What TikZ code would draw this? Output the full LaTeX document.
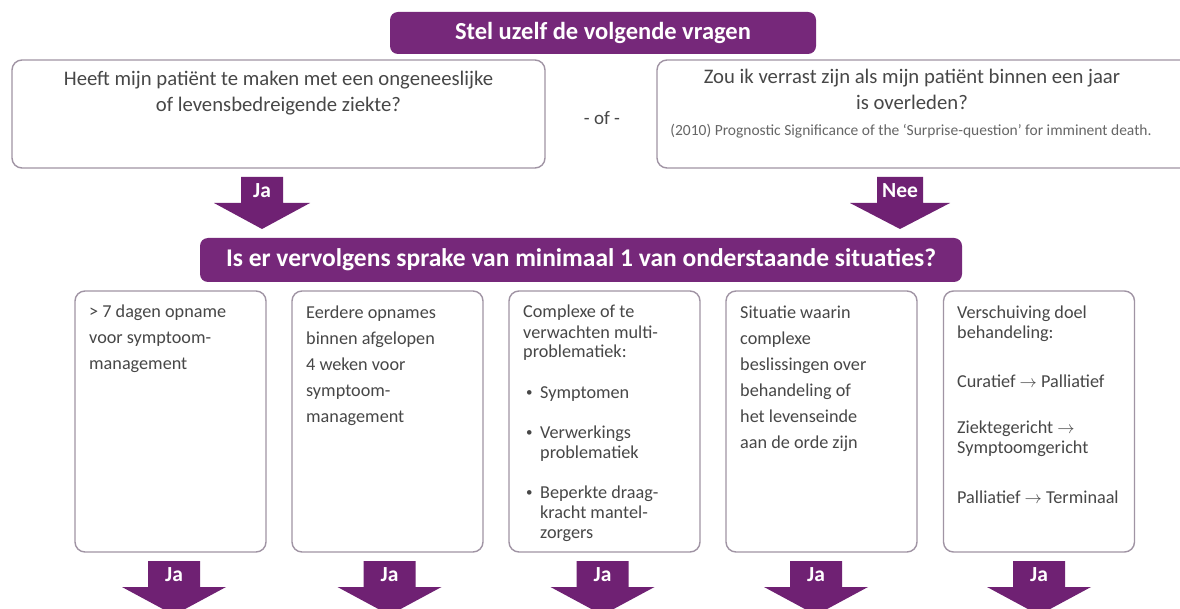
\documentclass[tikz,border=0pt]{standalone}
\usepackage{fontspec}
\setmainfont{Carlito}
\definecolor{bannerpurple}{HTML}{76287A}
\definecolor{arrowpurple}{HTML}{6F2173}
\definecolor{boxline}{HTML}{A094A4}
\definecolor{textgray}{HTML}{474747}
\definecolor{citegray}{HTML}{666666}
\newcommand{\blockarrow}[8]{% name, x, top y, label, stem half width, stem height, head half width, head height
  \coordinate (#1) at (#2,#3);
  \fill[arrowpurple] (#1) ++(-#5,0) -- ++(2*#5,0) -- ++(0,#6) -- ++(#7-#5,0)
    -- ++(-#7,#8) -- ++(-#7,-#8) -- ++(#7-#5,0) -- cycle;
  \path (#1) ++(0,#6/2+1) node[arrowlabel] (#1-label) {#4};
}
\begin{document}
\begin{tikzpicture}[x=1pt,y=-1pt,
  banner/.style={fill=bannerpurple, text=white, rounded corners=8pt, inner sep=0pt},
  qbox/.style={draw=boxline, line width=1.4pt, rounded corners=10pt, fill=white, inner sep=0pt},
  sbox/.style={draw=boxline, line width=1.4pt, rounded corners=10pt, fill=white, inner sep=0pt,
               minimum width=191pt, minimum height=261pt},
  qtext/.style={anchor=base, align=center, inner sep=0pt, text=textgray,
                font=\fontsize{20.7}{26}\selectfont},
  txt/.style={anchor=base west, align=left, inner sep=0pt, text=textgray,
              font=\fontsize{18.2}{26}\selectfont},
  txttight/.style={anchor=base west, align=left, inner sep=0pt, text=textgray,
              font=\fontsize{18.2}{20}\selectfont},
  bullet/.style={anchor=base west, inner sep=0pt, text=textgray,
              font=\fontsize{13}{14}\selectfont},
  arrowlabel/.style={text=white, inner sep=0pt, font=\bfseries\fontsize{21.5}{22}\selectfont}
]
\useasboundingbox (0,0) rectangle (1180,609);
\clip (0,0) rectangle (1180,609);
\fill[white] (0,0) rectangle (1180,609);

% top banner
\node[banner, minimum width=426pt, minimum height=42pt,
      font=\bfseries\fontsize{24.5}{26}\selectfont] (b1) at (603,33) {Stel uzelf de volgende vragen};

% question boxes (base anchor = baseline of last line)
\node[qbox, minimum width=533pt, minimum height=108pt] (q1) at (278.5,114) {};
\node[qtext] (q1t) at (278.5,112) {Heeft mijn patiënt te maken met een ongeneeslijke\\of levensbedreigende ziekte?};

\node[text=textgray, inner sep=0pt, font=\fontsize{19}{20}\selectfont] (of) at (602,118) {- of -};

\node[qbox, minimum width=543pt, minimum height=108pt] (q2) at (928.5,114) {};
\node[qtext] (q2t) at (912,110) {Zou ik verrast zijn als mijn patiënt binnen een jaar\\is overleden?};
\node[anchor=base, inner sep=0pt, text=citegray, font=\fontsize{15.5}{18}\selectfont] (cite) at (911,136)
  {(2010) Prognostic Significance of the ‘Surprise-question’ for imminent death.};

% arrows from questions
\blockarrow{aja}{262}{177}{Ja}{21}{26}{48}{26}
\blockarrow{anee}{900}{177}{Nee}{23}{26}{50}{26}

% second banner
\node[banner, minimum width=762pt, minimum height=44pt,
      font=\bfseries\fontsize{25.5}{28}\selectfont] (b2) at (581,260)
  {Is er vervolgens sprake van minimaal 1 van onderstaande situaties?};

% situation boxes
\node[sbox] (s1) at (170.5,421.5) {};
\node[sbox] (s2) at (387.5,421.5) {};
\node[sbox] (s3) at (604.5,421.5) {};
\node[sbox] (s4) at (821.5,421.5) {};
\node[sbox] (s5) at (1039,421.5) {};

\node[txt] (s1t) at (89,370) {> 7 dagen opname\\voor symptoom-\\management};
\node[txt] (s2t) at (306,422) {Eerdere opnames\\binnen afgelopen\\4 weken voor\\symptoom-\\management};

\node[txttight] (s3t) at (523,358) {Complexe of te\\verwachten multi-\\problematiek:};
\node[bullet] (s3b1) at (526,396) {•};
\node[txttight] (s3i1) at (540,398) {Symptomen};
\node[bullet] (s3b2) at (526,436) {•};
\node[txttight] (s3i2) at (540,458) {Verwerkings\\problematiek};
\node[bullet] (s3b3) at (526,496) {•};
\node[txttight] (s3i3) at (540,538) {Beperkte draag-\\kracht mantel-\\zorgers};

\node[txt] (s4t) at (740,448) {Situatie waarin\\complexe\\beslissingen over\\behandeling of\\het levenseinde\\aan de orde zijn};

\node[txttight] (s5t) at (957,338) {Verschuiving doel\\behandeling:};
\node[txttight] (s5a) at (957,387) {Curatief $\rightarrow$ Palliatief};
\node[txttight] (s5b) at (957,453) {Ziektegericht $\rightarrow$\\Symptoomgericht};
\node[txttight] (s5c) at (957,503) {Palliatief $\rightarrow$ Terminaal};

% bottom arrows
\blockarrow{j1}{174}{561}{Ja}{26}{26}{52}{28}
\blockarrow{j2}{389.5}{561}{Ja}{26}{26}{52}{28}
\blockarrow{j3}{602.5}{561}{Ja}{26}{26}{52}{28}
\blockarrow{j4}{816}{561}{Ja}{26}{26}{52}{28}
\blockarrow{j5}{1039}{561}{Ja}{26}{26}{52}{28}
\end{tikzpicture}
\end{document}
